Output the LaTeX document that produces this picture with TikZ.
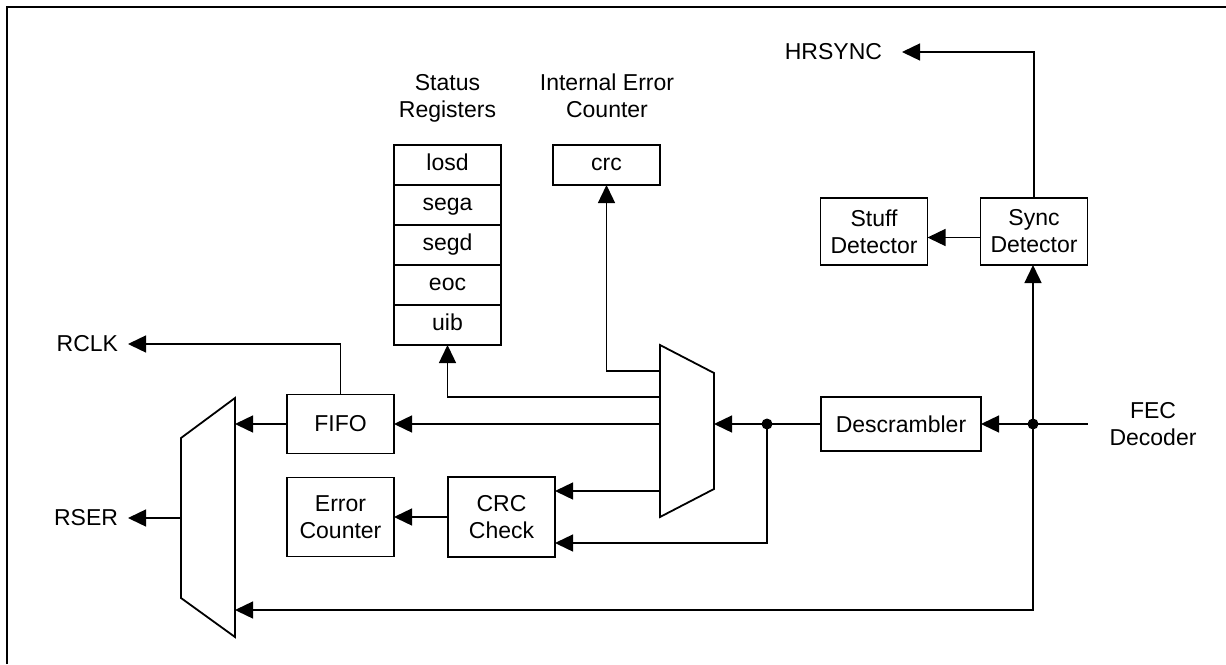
\documentclass[tikz,border=0pt]{standalone}
\usepackage{fontspec}
\setmainfont{Liberation Sans}
\usetikzlibrary{arrows.meta, positioning}
\tikzstyle{block} = [rectangle, draw, line width=0.9pt, minimum width=53.5pt, inner sep=0pt, outer sep=0pt, align=center]
\tikzstyle{reg} = [block, minimum height=20pt, text height=8.3pt, text depth=2.4pt]
\tikzstyle{arrow} = [line width=0.7pt, -{Triangle[length=9pt, width=8.5pt]}]
\tikzstyle{lbl} = [inner sep=0pt, outer sep=0pt, align=center]
\tikzstyle{mux} = [line width=0.9pt, line join=miter]
\tikzstyle{dot} = [circle, fill=black, inner sep=0pt, minimum size=5.5pt]

\begin{document}
\begin{tikzpicture}[x=0.5pt, y=-0.5pt, font=\fontsize{11.5}{13.5}\selectfont]
        \useasboundingbox (0,0) rectangle (1226,664);
        \draw[line width=1.3pt] (7,664) -- (7,7) -- (1226,7);

        % registers
        \node (losd) [reg] at (447.5,165) {losd};
        \node (sega) [reg, below=0pt of losd] {sega};
        \node (segd) [reg, below=0pt of sega] {segd};
        \node (eoc) [reg, below=0pt of segd] {eoc};
        \node (uib) [reg, below=0pt of eoc] {uib};
        \node (crc) [reg, right=26pt of losd] {crc};
        \node (stat_lbl) [lbl] at (447.5,98) {Status\\Registers};
        \node (iec_lbl) [lbl] at (607,96) {Internal Error\\Counter};

        % blocks
        \node (fifo) [block, minimum height=29.5pt] at (340.5,424) {FIFO};
        \node (errcnt) [block, minimum height=39.5pt, below=12pt of fifo] {Error\\Counter};
        \node (crcchk) [block, minimum height=40pt, right=27pt of errcnt] {CRC\\Check};
        \node (des) [block, minimum width=80pt, minimum height=27pt] at (901,424) {Descrambler};
        \node (sync) [block, minimum height=33.5pt] at (1034,231.5) {Sync\\Detector};
        \node (stuff) [block, minimum height=33.5pt, left=26.5pt of sync] {Stuff\\Detector};

        % outside signals
        \node (hrsync) [lbl, anchor=east, outer xsep=10pt] at (902,52) {HRSYNC};
        \node (rclk) [lbl, anchor=east, outer xsep=5pt] at (128,344) {RCLK};
        \node (rser) [lbl, anchor=east, outer xsep=5pt] at (128,518) {RSER};
        \node (fec) [lbl, outer xsep=11pt] at (1153,424) {FEC\\Decoder};

        % muxes
        \coordinate (mm-nw) at (660,345);
        \coordinate (mm-ne) at (714,373);
        \coordinate (mm-se) at (714,489);
        \coordinate (mm-sw) at (660,517);
        \draw[mux] (mm-nw) -- (mm-ne) -- (mm-se) -- (mm-sw) -- cycle;
        \coordinate (lm-ne) at (235,398);
        \coordinate (lm-se) at (235,637);
        \coordinate (lm-sw) at (181,598);
        \coordinate (lm-nw) at (181,438);
        \coordinate (lm-w) at (181,518);
        \coordinate (lm-bot) at (235,610);
        \draw[mux] (lm-ne) -- (lm-se) -- (lm-sw) -- (lm-nw) -- cycle;

        \coordinate (tapdes) at (767,424);
        \coordinate (tapfec) at (1033,424);

        \draw[arrow] (fec.west) -- (des.east);
        \draw[arrow] (tapfec) -- (tapfec |- sync.south);
        \draw[arrow] (tapfec) |- (lm-bot);
        \draw[arrow] (sync.north) |- (hrsync.east);
        \draw[arrow] ([yshift=-3pt]sync.west) -- ([yshift=-3pt]stuff.east);
        \draw[arrow] (des) -- (des -| mm-ne);
        \draw[arrow] (tapdes) |- ([yshift=-13pt]crcchk.east);
        \draw[arrow] ([yshift=13pt]crcchk.east -| mm-nw) -- ([yshift=13pt]crcchk.east);
        \draw[arrow] (mm-nw |- fifo) -- (fifo);
        \draw[arrow] ([yshift=-13pt]mm-nw) -| (crc);
        \draw[arrow] ([yshift=-26pt]mm-nw) -| (uib);
        \draw[arrow] (crcchk) -- (errcnt);
        \draw[arrow] (fifo) -- (fifo -| lm-ne);
        \draw[arrow] (fifo.north) |- (rclk.east);
        \draw[arrow] (lm-w) -- (rser.east);
        \node (d1) [dot] at (tapdes) {};
        \node (d2) [dot] at (tapfec) {};
\end{tikzpicture}
\end{document}
